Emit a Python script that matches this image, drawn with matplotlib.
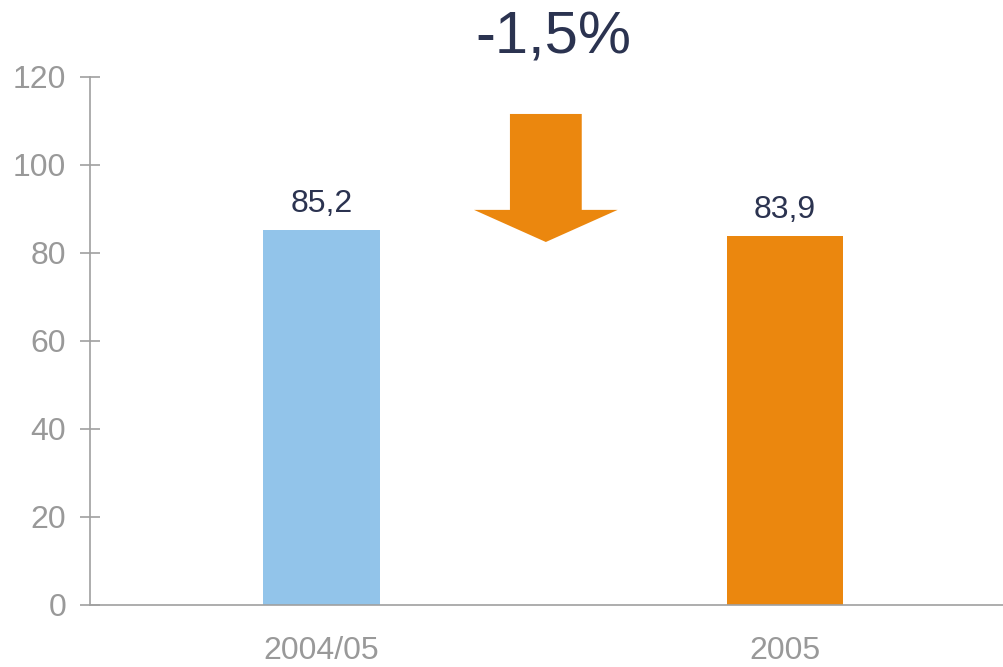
import matplotlib.pyplot as plt

# Data
categories = ['2004/05', '2005']
values = [85.2, 83.9]
value_labels = ['85,2', '83,9']
bar_colors = ['#92C4EA', '#EB870E']
change_label = '-1,5%'

yticks = [0, 20, 40, 60, 80, 100, 120]

plt.rcParams['font.family'] = ['Liberation Sans', 'DejaVu Sans']

fig = plt.figure(figsize=(10.04, 6.67), dpi=100)
ax = fig.add_axes([90 / 1004, 62 / 667, 914 / 1004, 528 / 667])

x = range(len(categories))
bars = ax.bar(x, values, width=0.252, color=bar_colors)

# Value labels above bars
for xi, v, lab in zip(x, values, value_labels):
    ax.annotate(lab, (xi, v), xytext=(0, 13), textcoords='offset points',
                ha='center', va='baseline', fontsize=23, color='#2B3350')

# Down arrow between bars
ax.arrow(0.484, 111.6, 0, 82.5 - 111.6, width=0.155, head_width=0.31,
         head_length=7.3, length_includes_head=True, color='#EB870E',
         linewidth=0)
ax.text(0.5, 128.9, change_label, ha='center', va='center', fontsize=43,
        color='#2B3350', clip_on=False)

# Axes styling
ax.set_xlim(-0.5, 1.473)
ax.set_ylim(0, 120)
ax.set_yticks(yticks)
ax.set_xticks(list(x))
ax.set_xticklabels(categories)

for side in ['top', 'right']:
    ax.spines[side].set_visible(False)
for side in ['left', 'bottom']:
    ax.spines[side].set_color('#A0A0A0')
    ax.spines[side].set_linewidth(1.2)

ax.tick_params(axis='y', direction='inout', length=14.4, width=1.2,
               color='#A0A0A0', labelcolor='#999999', labelsize=23, pad=10)
ax.tick_params(axis='x', length=0, labelcolor='#999999', labelsize=23, pad=22)

fig.savefig('out.png', dpi=100)
